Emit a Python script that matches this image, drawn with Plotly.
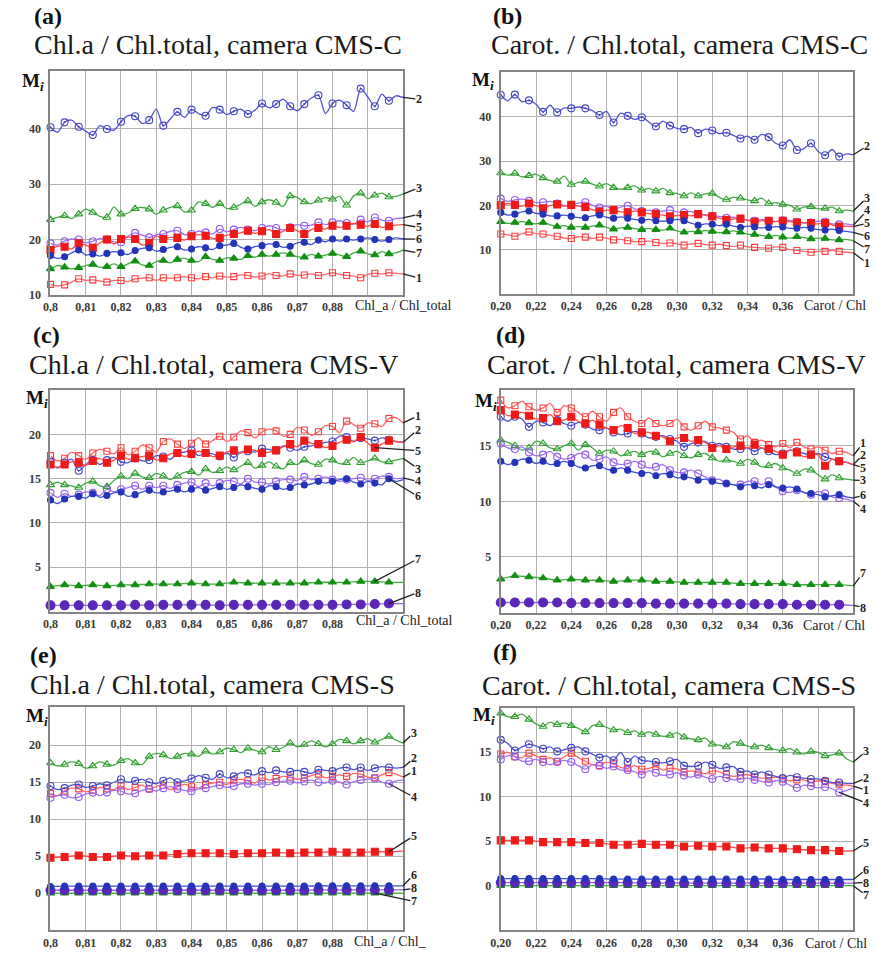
import numpy as np
import plotly.graph_objects as go

W, H = 875, 961
SERIF = "Liberation Serif"

# ---------------- data ----------------
XA_TICKS = [0.80, 0.81, 0.82, 0.83, 0.84, 0.85, 0.86, 0.87, 0.88]
XA_LABELS = ["0,8", "0,81", "0,82", "0,83", "0,84", "0,85", "0,86", "0,87", "0,88"]
XB_TICKS = [0.20, 0.22, 0.24, 0.26, 0.28, 0.30, 0.32, 0.34, 0.36]
XB_LABELS = ["0,20", "0,22", "0,24", "0,26", "0,28", "0,30", "0,32", "0,34", "0,36"]

# (a) Chl.a/Chl.total, CMS-C
A1 = [11.9, 11.6, 11.8, 12.3, 12.9, 12.6, 12.7, 12.5, 12.3, 12.6, 12.6, 12.4, 12.9, 13.0, 13.1, 12.6, 13.1, 13.0, 13.1, 13.3, 13.1, 12.9, 13.3, 13.1, 13.4, 13.2, 13.3, 13.6, 13.5, 13.2, 13.4, 13.8, 13.5, 13.4, 13.8, 13.5, 13.6, 13.8, 13.5, 13.7, 14.0, 13.7, 13.5, 13.4, 13.1, 13.7, 13.9, 13.8, 14.0, 13.9, 13.8]
A2 = [40.3, 39.4, 41.2, 41.6, 40.4, 39.6, 38.9, 40.6, 40.0, 39.8, 41.3, 42.4, 42.3, 41.0, 41.6, 43.6, 40.6, 41.8, 43.1, 42.1, 43.5, 42.8, 42.4, 43.9, 43.5, 42.6, 43.2, 43.6, 42.7, 43.4, 44.6, 43.8, 44.5, 45.4, 44.1, 43.3, 44.5, 45.6, 46.1, 42.8, 44.6, 45.2, 44.3, 43.2, 47.3, 45.8, 44.1, 46.3, 45.1, 46.0, 45.7]
A3 = [23.6, 24.0, 24.3, 23.8, 24.6, 25.5, 24.9, 24.2, 24.0, 25.9, 24.6, 24.8, 25.6, 25.8, 25.5, 24.6, 25.3, 25.8, 26.1, 25.0, 25.3, 26.8, 26.5, 25.8, 26.5, 25.6, 25.8, 26.4, 27.0, 26.0, 26.8, 27.2, 26.7, 26.0, 27.9, 27.6, 26.8, 26.5, 27.1, 27.6, 27.3, 27.8, 26.2, 27.9, 28.4, 27.4, 28.0, 28.4, 27.7, 27.8, 28.2]
A4 = [19.3, 19.0, 19.7, 20.1, 20.0, 19.4, 19.7, 20.2, 20.0, 19.6, 19.5, 20.6, 21.2, 20.8, 20.4, 20.9, 21.0, 21.5, 21.6, 20.9, 21.0, 21.5, 21.3, 21.0, 21.9, 21.4, 21.8, 22.2, 21.8, 21.6, 22.1, 22.5, 22.1, 21.7, 22.2, 22.7, 22.5, 22.6, 23.1, 22.7, 23.1, 23.4, 23.0, 22.8, 23.6, 23.2, 24.0, 23.5, 23.4, 23.8, 23.9]
A5 = [18.1, 18.8, 18.7, 18.3, 19.3, 19.0, 18.5, 19.4, 20.0, 19.2, 20.1, 20.5, 20.1, 19.0, 19.4, 20.6, 20.1, 20.4, 20.3, 19.9, 20.6, 20.9, 20.7, 20.2, 20.3, 20.8, 21.0, 21.2, 21.6, 21.1, 21.5, 21.8, 21.0, 21.5, 22.1, 21.6, 21.0, 21.8, 22.1, 21.9, 22.5, 22.2, 22.5, 22.9, 22.7, 22.4, 22.8, 22.2, 22.4, 22.6, 22.7]
A6 = [17.1, 16.6, 16.9, 17.6, 18.1, 17.2, 17.4, 17.0, 17.5, 17.8, 17.6, 17.3, 18.0, 18.4, 18.5, 17.9, 18.2, 18.6, 18.7, 18.1, 18.3, 18.7, 18.5, 18.2, 18.9, 19.0, 19.3, 18.6, 18.3, 18.7, 18.9, 19.2, 19.1, 18.6, 18.8, 19.4, 19.5, 19.1, 19.9, 19.6, 20.1, 19.7, 20.1, 19.9, 20.1, 20.3, 20.0, 19.7, 20.0, 20.3, 20.1]
A7 = [14.7, 15.3, 15.0, 14.7, 14.9, 15.3, 15.5, 15.0, 15.1, 15.6, 15.1, 15.6, 16.1, 15.4, 15.3, 16.0, 16.2, 15.8, 16.4, 16.6, 16.2, 16.0, 16.9, 16.4, 16.2, 16.7, 16.6, 16.4, 17.1, 16.8, 17.3, 17.0, 17.3, 17.6, 17.3, 16.9, 16.8, 17.3, 17.0, 17.2, 17.5, 17.2, 16.9, 17.6, 17.9, 17.4, 17.2, 17.8, 17.4, 17.6, 18.1]

# (b) Carot./Chl.total, CMS-C
B1 = [13.5, 13.4, 13.0, 13.6, 14.0, 13.6, 13.5, 13.2, 13.0, 12.6, 12.5, 12.9, 12.8, 12.5, 12.8, 12.6, 12.2, 12.3, 12.0, 11.8, 11.8, 11.9, 11.6, 11.4, 11.5, 11.3, 11.0, 11.3, 11.4, 11.1, 11.0, 11.2, 10.9, 10.7, 11.0, 10.6, 10.5, 10.4, 10.3, 10.6, 10.5, 10.0, 9.8, 9.6, 9.4, 9.6, 9.6, 9.8, 9.6, 9.4, 9.3]
B2 = [44.9, 43.6, 45.0, 43.4, 43.7, 42.8, 41.1, 42.6, 41.0, 42.0, 41.9, 42.2, 41.9, 41.4, 40.4, 41.2, 38.7, 40.8, 40.2, 39.4, 39.9, 38.8, 37.8, 39.0, 38.0, 37.4, 37.2, 37.6, 36.3, 37.2, 36.9, 36.2, 36.4, 35.8, 35.1, 35.6, 34.8, 36.0, 35.4, 34.0, 33.5, 34.8, 32.5, 32.8, 34.0, 32.2, 31.3, 32.6, 31.0, 31.6, 31.4]
B3 = [27.3, 26.8, 27.2, 26.4, 26.7, 27.0, 26.2, 25.6, 25.4, 26.6, 24.7, 25.2, 25.4, 24.8, 24.3, 24.9, 24.0, 23.6, 24.0, 24.4, 23.4, 23.8, 23.2, 23.8, 22.8, 22.7, 22.1, 22.8, 22.1, 22.6, 22.7, 21.8, 21.3, 21.8, 21.6, 21.2, 21.0, 21.6, 20.4, 20.6, 20.2, 20.0, 19.1, 19.6, 19.7, 19.2, 19.3, 19.6, 18.7, 18.9, 18.7]
B4 = [21.5, 20.9, 21.2, 21.4, 21.0, 20.6, 20.7, 20.9, 20.4, 20.0, 20.0, 20.5, 20.7, 20.0, 19.5, 19.8, 19.0, 19.6, 19.9, 19.2, 18.7, 18.9, 18.4, 18.7, 18.9, 18.5, 18.4, 18.6, 18.0, 17.9, 17.6, 17.5, 17.2, 17.3, 16.9, 16.7, 16.5, 16.8, 16.5, 16.3, 16.6, 16.6, 16.3, 16.0, 16.1, 16.4, 16.3, 15.8, 15.7, 15.8, 15.5]
B5 = [20.0, 20.4, 20.1, 19.8, 20.4, 19.9, 19.3, 19.9, 20.2, 19.8, 20.1, 19.8, 19.6, 19.0, 18.6, 18.9, 18.9, 18.5, 18.4, 18.7, 18.4, 18.1, 18.0, 17.8, 17.5, 17.7, 17.8, 17.6, 18.0, 17.7, 17.5, 17.1, 16.7, 16.9, 17.0, 16.6, 16.3, 16.5, 16.5, 16.3, 16.5, 16.3, 16.1, 16.1, 16.0, 15.8, 16.0, 15.6, 15.2, 15.3, 15.2]
B6 = [18.4, 17.8, 18.0, 18.5, 18.7, 18.2, 18.0, 17.6, 17.6, 17.8, 17.5, 17.2, 17.2, 17.6, 17.8, 17.3, 17.1, 17.4, 17.1, 16.8, 16.6, 16.8, 16.5, 16.4, 16.5, 16.8, 16.5, 16.0, 15.5, 15.8, 15.7, 15.4, 15.7, 15.3, 15.0, 15.3, 15.1, 14.9, 15.0, 15.2, 15.1, 14.8, 14.8, 15.0, 14.8, 14.5, 14.4, 14.6, 14.3, 14.1, 13.9]
B7 = [16.3, 15.9, 16.1, 16.3, 16.0, 15.8, 16.1, 15.6, 15.2, 15.4, 15.0, 15.2, 15.0, 15.3, 15.5, 15.0, 14.6, 14.9, 15.0, 14.7, 14.5, 14.8, 14.5, 14.4, 14.8, 14.2, 13.9, 14.1, 14.0, 14.3, 14.1, 13.8, 14.0, 14.2, 13.9, 13.5, 13.4, 13.2, 12.9, 13.2, 12.8, 12.6, 12.9, 12.7, 12.4, 12.6, 12.5, 12.2, 12.2, 12.3, 12.0]

# (c) Chl.a/Chl.total, CMS-V
C1 = [17.6, 17.0, 17.3, 18.0, 17.6, 17.2, 17.9, 18.3, 18.1, 17.8, 18.5, 17.7, 18.1, 18.8, 18.5, 18.0, 19.2, 19.5, 18.9, 18.4, 19.0, 19.6, 18.9, 19.3, 19.8, 19.2, 19.7, 20.4, 20.2, 19.6, 20.3, 20.6, 20.4, 19.8, 20.0, 20.8, 20.5, 19.9, 20.3, 21.0, 20.9, 20.2, 21.5, 21.1, 20.7, 21.3, 21.2, 20.9, 21.8, 21.9, 21.3]
C2 = [16.9, 16.2, 16.8, 17.2, 15.9, 16.6, 17.1, 16.6, 17.1, 17.4, 16.9, 16.8, 17.3, 17.0, 17.1, 17.6, 17.5, 17.2, 17.9, 18.0, 18.2, 17.6, 17.9, 17.8, 17.5, 17.9, 17.4, 18.0, 18.1, 18.0, 18.4, 18.3, 18.2, 18.7, 18.5, 18.2, 18.6, 18.7, 18.9, 19.1, 19.2, 19.8, 19.7, 19.2, 19.6, 19.5, 19.3, 19.6, 19.4, 19.2, 19.1]
C3 = [14.3, 14.6, 14.3, 14.2, 14.0, 14.5, 14.7, 14.2, 14.1, 14.8, 15.3, 15.0, 15.6, 15.2, 15.1, 15.6, 15.3, 14.9, 15.3, 15.7, 15.8, 15.4, 16.1, 15.7, 15.9, 16.3, 16.0, 16.4, 16.8, 16.2, 16.5, 16.9, 16.4, 16.1, 16.8, 16.6, 17.1, 16.7, 16.6, 17.2, 17.1, 16.7, 16.8, 17.4, 16.8, 17.0, 17.3, 16.9, 16.9, 17.1, 17.3]
C4 = [13.4, 12.9, 13.3, 13.0, 13.2, 13.5, 13.4, 13.1, 13.8, 13.5, 13.8, 14.0, 14.2, 13.8, 14.2, 14.0, 14.2, 13.9, 14.3, 14.5, 14.6, 14.1, 14.5, 14.2, 14.5, 14.8, 14.7, 14.4, 15.0, 14.6, 14.6, 14.4, 14.7, 14.9, 14.9, 14.8, 15.2, 14.9, 15.0, 15.2, 14.9, 14.7, 14.9, 15.0, 15.1, 14.8, 15.0, 15.3, 15.2, 15.0, 15.1]
C5 = [16.6, 16.3, 16.6, 16.9, 16.8, 16.5, 17.0, 17.3, 16.8, 17.1, 17.6, 17.2, 17.3, 17.5, 17.6, 17.1, 17.3, 17.8, 17.9, 17.5, 17.8, 18.1, 17.9, 17.5, 17.6, 18.0, 18.2, 17.9, 18.3, 18.2, 17.9, 18.0, 18.2, 18.6, 18.9, 18.6, 19.3, 19.0, 18.9, 18.5, 18.7, 19.1, 19.4, 19.2, 19.7, 19.0, 18.5, 18.9, 19.3, 19.2, 19.1]
C6 = [12.6, 12.2, 12.7, 13.0, 13.0, 12.8, 13.3, 12.9, 13.1, 13.4, 13.5, 13.0, 13.2, 13.5, 13.7, 13.4, 13.5, 13.6, 13.8, 13.5, 13.8, 14.0, 13.7, 13.9, 14.1, 13.8, 14.0, 14.3, 14.1, 13.9, 13.8, 14.2, 14.1, 13.8, 14.0, 14.4, 14.3, 14.4, 14.7, 14.5, 14.7, 14.9, 15.0, 14.6, 14.4, 14.7, 14.5, 14.3, 15.0, 14.7, 14.9]
C7 = [2.8, 3.0, 2.9, 3.0, 2.9, 3.0, 3.0, 3.1, 3.1, 3.1, 3.2, 3.1, 3.1, 3.3, 3.2, 3.2, 3.2, 3.2, 3.2, 3.3, 3.3, 3.3, 3.4, 3.4, 3.3, 3.3]
C8 = [0.7, 0.7, 0.7, 0.7, 0.7, 0.7, 0.75, 0.7, 0.75, 0.75, 0.75, 0.75, 0.7, 0.75, 0.75, 0.75, 0.75, 0.75, 0.75, 0.75, 0.75, 0.8, 0.8, 0.85, 0.9, 0.9]

# (d) Carot./Chl.total, CMS-V
D1 = [19.1, 18.4, 18.6, 19.0, 18.5, 18.2, 18.4, 18.8, 18.0, 18.6, 18.4, 18.0, 17.6, 18.1, 17.6, 17.2, 18.0, 18.4, 17.6, 17.2, 17.0, 17.5, 17.0, 16.8, 17.0, 17.4, 16.7, 16.4, 16.8, 17.2, 16.7, 16.6, 16.4, 16.2, 15.6, 15.9, 15.3, 15.5, 15.1, 14.9, 15.2, 14.8, 15.3, 14.9, 14.7, 14.9, 14.6, 14.3, 14.5, 14.4, 14.1]
D2 = [17.6, 17.2, 17.6, 17.4, 16.7, 17.2, 17.1, 16.8, 17.3, 17.0, 16.8, 17.1, 16.9, 16.5, 16.4, 16.6, 16.2, 16.0, 16.1, 16.3, 16.1, 15.7, 15.8, 15.9, 15.6, 15.4, 14.9, 15.2, 15.3, 15.4, 15.0, 15.2, 14.9, 14.7, 14.7, 14.8, 14.5, 14.8, 14.5, 14.2, 14.3, 14.6, 14.5, 14.3, 14.2, 14.3, 14.0, 13.8, 13.6, 13.5, 13.3]
D3 = [15.5, 15.3, 15.0, 14.6, 14.8, 15.4, 15.2, 14.8, 14.7, 15.0, 15.2, 14.6, 15.1, 14.8, 14.3, 14.6, 14.5, 14.1, 14.3, 14.5, 14.2, 14.5, 14.4, 14.0, 14.3, 14.5, 14.1, 13.9, 14.2, 14.3, 13.9, 13.6, 13.7, 13.6, 13.4, 13.8, 13.5, 13.1, 13.2, 13.4, 13.0, 12.8, 12.5, 12.9, 12.8, 12.4, 12.0, 12.4, 12.1, 12.0, 11.9]
D4 = [15.2, 14.8, 14.7, 14.9, 14.4, 14.1, 14.2, 14.5, 14.0, 13.8, 13.9, 14.3, 14.2, 13.7, 13.8, 14.0, 13.5, 13.3, 13.4, 13.6, 13.3, 13.0, 13.1, 13.3, 12.8, 12.6, 12.6, 12.8, 12.5, 12.2, 11.9, 12.0, 11.6, 11.5, 11.5, 11.8, 11.8, 11.5, 11.8, 11.3, 10.9, 10.8, 11.0, 10.8, 10.6, 10.9, 10.7, 10.4, 10.3, 10.2, 10.0]
D5 = [18.2, 17.7, 17.8, 18.0, 17.7, 17.4, 17.5, 17.8, 17.2, 17.3, 17.6, 17.2, 17.0, 17.3, 16.9, 16.6, 16.4, 16.8, 16.6, 16.1, 16.2, 16.2, 15.9, 15.8, 15.4, 15.7, 15.7, 15.4, 15.5, 15.3, 14.8, 15.0, 14.7, 14.9, 15.0, 14.8, 15.1, 14.8, 14.7, 14.5, 14.2, 14.6, 14.4, 14.0, 14.2, 14.2, 13.2, 13.8, 13.6, 13.5, 13.3]
D6 = [13.6, 13.3, 13.5, 13.8, 13.7, 13.4, 13.6, 13.3, 13.4, 13.6, 13.4, 13.1, 13.0, 13.2, 13.2, 12.9, 12.8, 13.0, 12.8, 12.6, 12.5, 12.6, 12.3, 12.5, 12.4, 12.1, 12.2, 12.1, 11.9, 12.0, 11.8, 11.6, 11.6, 11.5, 11.3, 11.5, 11.4, 11.2, 11.5, 11.3, 11.2, 11.3, 11.1, 10.8, 10.7, 10.6, 10.4, 10.5, 10.6, 10.4, 10.3]
D7 = [3.0, 3.3, 3.2, 3.1, 2.9, 3.0, 2.9, 2.9, 2.8, 2.9, 2.9, 2.8, 2.8, 2.7, 2.7, 2.7, 2.7, 2.6, 2.6, 2.6, 2.6, 2.5, 2.5, 2.5, 2.5, 2.4]
D8 = [0.9, 0.9, 0.9, 0.9, 0.9, 0.85, 0.85, 0.85, 0.85, 0.85, 0.85, 0.8, 0.8, 0.8, 0.8, 0.8, 0.8, 0.75, 0.75, 0.75, 0.75, 0.7, 0.7, 0.7, 0.7, 0.65]

# (e) Chl.a/Chl.total, CMS-S
E1 = [13.5, 13.2, 13.8, 14.2, 14.1, 13.7, 13.9, 14.3, 14.1, 14.0, 14.5, 14.0, 14.3, 14.6, 14.1, 14.4, 14.6, 14.0, 14.4, 14.7, 14.4, 14.2, 14.7, 14.9, 15.0, 14.7, 15.2, 15.4, 15.2, 14.9, 15.6, 15.3, 15.5, 15.8, 15.7, 15.4, 15.6, 15.9, 16.1, 15.6, 15.8, 16.0, 15.8, 16.2, 16.1, 15.7, 15.6, 16.0, 16.3, 16.1, 15.7]
E2 = [14.5, 14.0, 14.2, 14.6, 14.7, 14.3, 14.5, 14.8, 14.6, 15.0, 15.4, 15.0, 15.2, 15.4, 15.0, 14.8, 15.2, 15.6, 15.0, 15.2, 15.5, 15.9, 15.6, 15.4, 16.1, 15.6, 15.8, 16.3, 16.2, 16.0, 16.5, 16.3, 16.6, 16.4, 16.4, 16.6, 16.4, 16.2, 16.7, 16.6, 16.5, 16.9, 17.0, 16.7, 17.0, 16.6, 16.9, 17.1, 17.0, 16.9, 17.0]
E3 = [17.6, 17.2, 17.4, 17.8, 17.5, 16.9, 17.2, 17.8, 17.4, 17.3, 17.9, 18.2, 17.6, 17.4, 18.5, 18.9, 18.7, 18.2, 18.5, 18.9, 18.8, 18.5, 19.2, 18.8, 19.1, 19.6, 19.4, 19.0, 19.6, 19.3, 19.1, 19.8, 19.4, 19.7, 20.3, 19.8, 20.1, 20.6, 20.2, 19.8, 20.2, 20.8, 20.6, 20.2, 20.6, 20.9, 20.4, 20.8, 21.2, 20.7, 20.3]
E4 = [12.9, 13.2, 13.3, 12.9, 13.0, 13.4, 13.6, 13.2, 13.6, 13.9, 13.8, 13.4, 13.5, 13.9, 14.1, 13.8, 14.2, 14.4, 14.1, 13.9, 13.8, 14.1, 14.2, 14.4, 14.6, 14.3, 14.5, 14.8, 14.8, 14.6, 14.8, 14.7, 15.0, 15.1, 15.2, 14.9, 15.1, 15.3, 15.0, 14.9, 15.2, 15.0, 14.7, 15.1, 15.3, 15.4, 15.5, 15.0, 14.8, 15.2, 15.3]
E5 = [4.8, 4.9, 5.1, 4.9, 4.9, 5.1, 5.0, 5.1, 5.1, 5.3, 5.4, 5.4, 5.4, 5.3, 5.4, 5.4, 5.5, 5.4, 5.5, 5.5, 5.6, 5.5, 5.5, 5.6, 5.6, 5.7]
E6 = [0.9, 0.95, 0.95, 0.95, 0.95, 0.95, 0.95, 0.95, 0.95, 0.95, 0.95, 0.95, 0.95, 0.95, 0.95, 0.95, 0.95, 0.95, 0.95, 1.0, 1.0, 1.0, 1.0, 1.0, 1.0, 1.0]
E7 = [0.0, 0.0, 0.0, 0.0, 0.0, 0.0, 0.0, 0.0, 0.0, 0.0, 0.0, 0.0, 0.0, 0.0, 0.0, 0.0, 0.0, 0.0, 0.0, 0.0, 0.0, 0.0, 0.0, 0.0, 0.0, 0.0]
E8 = [0.4, 0.4, 0.4, 0.4, 0.4, 0.4, 0.4, 0.4, 0.4, 0.4, 0.4, 0.4, 0.4, 0.4, 0.4, 0.4, 0.4, 0.4, 0.4, 0.45, 0.45, 0.45, 0.45, 0.45, 0.45, 0.45]

# (f) Carot./Chl.total, CMS-S
F1 = [14.8, 15.0, 14.5, 14.4, 14.9, 14.6, 14.2, 14.4, 14.0, 14.5, 14.9, 14.4, 14.0, 13.6, 13.5, 13.9, 13.7, 13.3, 13.2, 13.5, 13.1, 13.2, 13.4, 13.0, 13.2, 13.1, 12.8, 12.9, 12.7, 12.6, 12.9, 12.8, 12.5, 12.3, 12.4, 12.5, 12.2, 12.1, 12.1, 12.2, 12.0, 11.8, 11.9, 11.9, 11.6, 11.8, 11.7, 11.5, 11.4, 11.3, 11.2]
F2 = [16.4, 16.0, 15.2, 15.6, 15.9, 15.7, 15.4, 15.6, 15.1, 15.3, 15.5, 15.6, 15.1, 14.8, 14.4, 14.6, 14.1, 15.0, 13.9, 14.6, 14.1, 14.0, 13.9, 13.8, 14.0, 14.2, 13.5, 13.4, 13.5, 13.9, 13.6, 13.2, 13.3, 13.4, 12.8, 12.9, 12.5, 12.8, 12.5, 12.3, 12.1, 12.4, 12.2, 12.1, 12.0, 12.0, 11.8, 11.6, 11.6, 11.5, 11.5]
F3 = [19.4, 19.0, 19.0, 19.3, 18.7, 18.2, 17.9, 18.4, 18.1, 18.3, 18.0, 17.7, 17.3, 18.0, 18.1, 17.8, 17.5, 17.6, 17.2, 17.4, 17.0, 17.3, 17.0, 16.8, 16.9, 17.2, 16.7, 16.5, 16.4, 16.6, 15.9, 15.8, 15.6, 16.2, 16.0, 15.7, 15.6, 15.8, 15.5, 15.3, 15.2, 15.4, 15.0, 14.8, 15.1, 15.0, 14.6, 14.7, 14.9, 14.3, 13.9]
F4 = [14.2, 14.6, 14.5, 14.0, 14.0, 14.2, 13.9, 13.6, 13.9, 14.1, 13.9, 13.5, 13.1, 13.6, 13.5, 13.2, 13.4, 13.0, 13.0, 12.8, 12.5, 12.9, 12.7, 12.4, 12.5, 12.7, 12.4, 12.2, 12.5, 12.2, 12.0, 12.3, 12.1, 11.9, 12.0, 12.1, 11.9, 11.7, 11.6, 11.8, 11.7, 11.3, 11.0, 11.3, 11.2, 11.0, 11.1, 10.9, 10.5, 10.7, 11.0]
F5 = [5.1, 5.1, 5.1, 4.9, 4.9, 4.9, 4.8, 4.8, 4.6, 4.6, 4.7, 4.6, 4.6, 4.4, 4.5, 4.4, 4.4, 4.2, 4.3, 4.2, 4.2, 4.1, 4.0, 4.0, 3.9, 3.9]
F6 = [0.8, 0.8, 0.8, 0.8, 0.8, 0.8, 0.8, 0.8, 0.75, 0.75, 0.75, 0.75, 0.75, 0.75, 0.75, 0.75, 0.75, 0.75, 0.75, 0.75, 0.7, 0.7, 0.7, 0.7, 0.7, 0.7]
F7 = [0.0, 0.0, 0.0, 0.0, 0.0, 0.0, 0.0, 0.0, 0.0, 0.0, 0.0, 0.0, 0.0, 0.0, 0.0, 0.0, 0.0, 0.0, 0.0, 0.0, 0.0, 0.0, 0.0, 0.0, 0.0, 0.0]
F8 = [0.35, 0.35, 0.35, 0.35, 0.35, 0.35, 0.35, 0.35, 0.35, 0.35, 0.3, 0.3, 0.3, 0.3, 0.3, 0.3, 0.3, 0.3, 0.3, 0.3, 0.3, 0.3, 0.3, 0.3, 0.3, 0.3]

# ---------------- styles ----------------
STYLES = {
    "1": dict(line="#ff6666", mc="#ff3c3c", sym="square-open", size=6),
    "2": dict(line="#5353d2", mc="#4646c4", sym="circle-open-dot", size=7),
    "3": dict(line="#44aa44", mc="#2e9e2e", sym="triangle-up-open", size=7),
    "4": dict(line="#a173f2", mc="#9358ee", sym="circle-open", size=7),
    "5": dict(line="#ff4a4a", mc="#ee1a1a", sym="square", size=7),
    "6": dict(line="#3f4fd6", mc="#2433b8", sym="circle", size=6),
    "7": dict(line="#3fae3f", mc="#128f12", sym="triangle-up", size=7),
    "8": dict(line="#9466e0", mc="#5a27b8", sym="circle", size=9),
}
GRID = "#b0b0b0"
FRAME = "#858585"
TXT = "#222222"

# box = (left, right, top, bottom) in pixels
PANELS = [
    dict(letter="(a)", title="Chl.a / Chl.total, camera CMS-C", xname="Chl_a / Chl_total",
         box=(40, 397, 72, 297), xr=(0.80, 0.90), yr=(10, 50.4), yt=[10, 20, 30, 40],
         xt=XA_TICKS, xl=XA_LABELS, xd=0.01,
         series=[("1", A1), ("2", A2), ("3", A3), ("4", A4), ("5", A5), ("6", A6), ("7", A7)],
         lab_x=413, labels={"2": (100, -1), "3": (189, -1), "4": (216, -1), "5": (229, -1),
                            "6": (241, -1), "7": (255, -1), "1": (280, -1)},
         pos=dict(letter=(37, 16), title=(210, 45), mi=(22, 83), xname=(346, 308))),
    dict(letter="(b)", title="Carot. / Chl.total, camera CMS-C", xname="Carot / Chl",
         box=(496, 853, 73, 296), xr=(0.20, 0.40), yr=(0, 50), yt=[10, 20, 30, 40],
         xt=XB_TICKS, xl=XB_LABELS, xd=0.02,
         series=[("1", B1), ("2", B2), ("3", B3), ("4", B4), ("5", B5), ("6", B6), ("7", B7)],
         lab_x=867, labels={"2": (147, -1), "3": (199, -1), "4": (212, -1), "5": (225, -1),
                            "6": (238, -1), "7": (251, -1), "1": (265, -1)},
         pos=dict(letter=(503, 16), title=(677, 45), mi=(478, 82), xname=(801, 308))),
    dict(letter="(c)", title="Chl.a / Chl.total, camera CMS-V", xname="Chl_a / Chl_total",
         box=(40, 397, 393, 616), xr=(0.80, 0.90), yr=(0, 25), yt=[5, 10, 15, 20],
         xt=XA_TICKS, xl=XA_LABELS, xd=0.01,
         series=[("1", C1), ("2", C2), ("3", C3), ("4", C4), ("5", C5), ("6", C6), ("7", C7), ("8", C8)],
         lab_x=412, labels={"1": (419, -1), "2": (433, -1), "5": (454, 46), "3": (472, -1),
                            "4": (485, -1), "6": (500, 48), "7": (563, 23), "8": (597, 24)},
         pos=dict(letter=(36, 337), title=(205, 367), mi=(26, 402), xname=(347, 625))),
    dict(letter="(d)", title="Carot. / Chl.total, camera CMS-V", xname="Carot / Chl",
         box=(496, 853, 393, 617), xr=(0.20, 0.40), yr=(0, 20), yt=[5, 10, 15],
         xt=XB_TICKS, xl=XB_LABELS, xd=0.02,
         series=[("1", D1), ("2", D2), ("3", D3), ("4", D4), ("5", D5), ("6", D6), ("7", D7), ("8", D8)],
         lab_x=863, labels={"1": (446, -1), "2": (458, -1), "5": (471, -1), "3": (484, -1),
                            "6": (499, -1), "4": (513, -1), "7": (577, -1), "8": (612, -1)},
         pos=dict(letter=(506, 337), title=(674, 367), mi=(481, 405), xname=(800, 630))),
    dict(letter="(e)", title="Chl.a / Chl.total, camera CMS-S", xname="Chl_a / Chl_",
         box=(40, 397, 712, 937), xr=(0.80, 0.90), yr=(-5, 25.2), yt=[0, 5, 10, 15, 20],
         xt=XA_TICKS, xl=XA_LABELS, xd=0.01,
         series=[("1", E1), ("2", E2), ("3", E3), ("4", E4), ("5", E5), ("7", E7), ("8", E8), ("6", E6)],
         lab_x=408, labels={"3": (738, -1), "2": (764, -1), "1": (777, -1), "4": (803, 48),
                            "5": (842, 24), "6": (881, -1), "8": (895, -1), "7": (908, 23)},
         pos=dict(letter=(33, 660), title=(204, 690), mi=(26, 722), xname=(345, 948))),
    dict(letter="(f)", title="Carot. / Chl.total, camera CMS-S", xname="Carot / Chl",
         box=(496, 853, 713, 937), xr=(0.20, 0.40), yr=(-5, 20), yt=[0, 5, 10, 15],
         xt=XB_TICKS, xl=XB_LABELS, xd=0.02,
         series=[("1", F1), ("2", F2), ("3", F3), ("4", F4), ("5", F5), ("7", F7), ("8", F8), ("6", F6)],
         lab_x=866, labels={"3": (757, -1), "2": (784, -1), "1": (796, -1), "4": (809, 48),
                            "5": (849, -1), "6": (876, -1), "8": (889, -1), "7": (902, -1)},
         pos=dict(letter=(500, 657), title=(666, 691), mi=(479, 721), xname=(802, 950))),
]

fig = go.Figure()
annotations = []


def px2paper(px, py):
    return px / W, 1 - py / H


for k, p in enumerate(PANELS):
    n = k + 1
    xa = "x" if n == 1 else f"x{n}"
    ya = "y" if n == 1 else f"y{n}"
    l, r, t, b = p["box"]
    x0, x1 = p["xr"]
    y0, y1 = p["yr"]
    ends = {}
    for name, ys in p["series"]:
        st = STYLES[name]
        m = len(ys)
        xs = np.linspace(x0, x1, m)
        step = (m - 1) // 25
        ys = np.array(ys, dtype=float)
        fig.add_trace(go.Scatter(
            x=xs, y=ys, mode="lines", xaxis=xa, yaxis=ya, showlegend=False, hoverinfo="skip",
            line=dict(color=st["line"], width=1.3, shape="spline", smoothing=0.8)))
        mx, my = xs[0:m - 1:step], ys[0:m - 1:step]
        fig.add_trace(go.Scatter(
            x=mx, y=my, mode="markers", xaxis=xa, yaxis=ya, showlegend=False, cliponaxis=False,
            marker=dict(symbol=st["sym"], size=st["size"], color=st["mc"],
                        line=dict(color=st["mc"], width=1.1))))
        ends[name] = (xs, ys)

    fig.layout["xaxis" if n == 1 else f"xaxis{n}"] = dict(
        domain=[l / W, r / W], range=[x0, x1], anchor=ya,
        tickmode="array", tickvals=p["xt"], ticktext=p["xl"],
        showgrid=True, gridcolor=GRID, gridwidth=1.2,
        minor=dict(tick0=x0, dtick=p["xd"], showgrid=True, gridcolor=GRID, gridwidth=1.2, ticks=""),
        showline=True, linecolor=FRAME, linewidth=2, mirror=True,
        ticks="", zeroline=False, fixedrange=True,
        tickfont=dict(family=SERIF, size=12, color="#3a3a3a", weight="bold"))
    fig.layout["yaxis" if n == 1 else f"yaxis{n}"] = dict(
        domain=[1 - b / H, 1 - t / H], range=[y0, y1], anchor=xa,
        tickmode="array", tickvals=p["yt"], ticktext=[str(v) for v in p["yt"]],
        showgrid=True, gridcolor=GRID, gridwidth=1.2, ticklabelstandoff=5,
        showline=True, linecolor=FRAME, linewidth=2, mirror=True,
        ticks="", zeroline=False, fixedrange=True,
        tickfont=dict(family=SERIF, size=12, color="#3a3a3a", weight="bold"))

    ps = p["pos"]
    lx, ly = px2paper(*ps["letter"])
    annotations.append(dict(text=p["letter"], x=lx, y=ly, xref="paper", yref="paper",
                            showarrow=False, xanchor="center", yanchor="middle",
                            font=dict(family=SERIF, size=24, color="#111", weight="bold")))
    tx, ty = px2paper(*ps["title"])
    annotations.append(dict(text=p["title"], x=tx, y=ty, xref="paper", yref="paper",
                            showarrow=False, xanchor="center", yanchor="middle",
                            font=dict(family=SERIF, size=28, color="#1a1a1a")))
    mx_, my_ = px2paper(*ps["mi"])
    annotations.append(dict(text="M<sub><i>i</i></sub>", x=mx_, y=my_, xref="paper", yref="paper",
                            showarrow=False, xanchor="center", yanchor="middle",
                            font=dict(family=SERIF, size=19, color="#111", weight="bold")))
    nx, ny = px2paper(*ps["xname"])
    annotations.append(dict(text=p["xname"], x=nx, y=ny, xref="paper", yref="paper",
                            showarrow=False, xanchor="left", yanchor="middle",
                            font=dict(family=SERIF, size=14, color=TXT)))

    # series number labels with leader lines
    lab_xd = x0 + (p["lab_x"] - l) / (r - l) * (x1 - x0)
    for name, (lpy, idx) in p["labels"].items():
        xs, ys = ends[name]
        tx_, ty_ = xs[idx], ys[idx]
        lab_yd = y0 + (b - lpy) / (b - t) * (y1 - y0)
        annotations.append(dict(text=name, x=tx_, y=ty_, xref=xa, yref=ya,
                                ax=lab_xd, ay=lab_yd, axref=xa, ayref=ya,
                                showarrow=True, arrowhead=0, arrowwidth=1.3, arrowcolor="#222",
                                standoff=0, startstandoff=0, borderpad=0,
                                font=dict(family=SERIF, size=12, color=TXT, weight="bold")))

fig.update_layout(
    width=W, height=H, margin=dict(l=0, r=0, t=0, b=0),
    paper_bgcolor="white", plot_bgcolor="white",
    annotations=annotations, showlegend=False)

fig.write_html("out.html")
